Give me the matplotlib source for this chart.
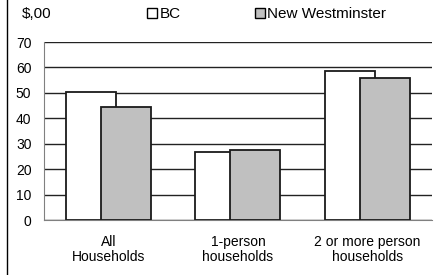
import matplotlib
matplotlib.use("Agg")
import matplotlib.pyplot as plt
from matplotlib.patches import Patch
from matplotlib.lines import Line2D
import numpy as np

plt.rcParams['font.family'] = ['Liberation Sans', 'DejaVu Sans']

categories = ["All\nHouseholds", "1-person\nhouseholds", "2 or more person\nhouseholds"]
bc = [50.5, 26.9, 58.6]
new_west = [44.4, 27.5, 56.0]
series_names = ["BC", "New Westminster"]

fig = plt.figure(figsize=(4.35, 2.75), dpi=100)
ax = fig.add_axes([0.101, 0.2, 0.892, 0.647])

x = np.arange(len(categories))
w = 0.387
off = 0.135
ax.bar(x - off, bc, w, color='white', edgecolor='#1a1a1a', linewidth=1.3, zorder=2)
ax.bar(x + off, new_west, w, color='#c0c0c0', edgecolor='#1a1a1a', linewidth=1.3, zorder=3)

ax.set_ylim(0, 70)
ax.set_xlim(-0.5, 2.5)
ax.set_yticks(range(0, 71, 10))
ax.yaxis.grid(True, color='#222222', linewidth=1.0, zorder=0)
ax.set_axisbelow(True)
for s in ['top', 'right']:
    ax.spines[s].set_visible(False)
ax.spines['left'].set_color('#808080')
ax.spines['bottom'].set_color('#808080')
ax.tick_params(axis='y', length=0, pad=9, labelsize=10)
ax.tick_params(axis='x', length=0, pad=11, labelsize=10)
ax.set_xticks(x)
ax.set_xticklabels(categories, linespacing=1.1)

fig.text(0.05, 0.948, "$,00", fontsize=11, va='center')
handles = [Patch(facecolor='white', edgecolor='black', linewidth=1.0),
           Patch(facecolor='#c0c0c0', edgecolor='black', linewidth=1.0)]
fig.legend(handles, series_names, loc='center left', bbox_to_anchor=(0.338, 0.948),
           ncol=2, frameon=False, fontsize=11, handlelength=0.65, handleheight=0.65,
           handletextpad=0.15, columnspacing=4.9, borderaxespad=0, borderpad=0)

fig.add_artist(Line2D([0.016, 0.016], [0, 1], color='black', linewidth=1.0))

fig.savefig("out.png", dpi=100)
